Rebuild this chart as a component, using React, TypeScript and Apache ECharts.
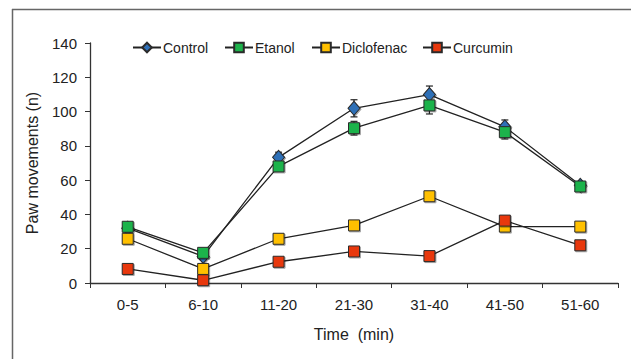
import React, { useEffect, useRef } from "react";
import * as echarts from "echarts";

const categories = ["0-5", "6-10", "11-20", "21-30", "31-40", "41-50", "51-60"];
const controlValues = [32, 15.5, 73.3, 101.9, 109.9, 91.1, 57];
const controlErrors = [1.5, 2, 3, 5, 5, 4, 1.5];
const etanolValues = [32.8, 17.6, 68, 90.3, 103.6, 88, 56.3];
const etanolErrors = [1.5, 2, 2, 4, 5, 4, 1.5];
const diclofenacValues = [25.8, 8.2, 25.8, 33.6, 50.6, 32.9, 32.9];
const curcuminValues = [8.2, 1.6, 12.4, 18.4, 15.7, 36.4, 22];
const yTicks = [0, 20, 40, 60, 80, 100, 120, 140];

const FONT = "'Liberation Sans', Arial, sans-serif";
const LINE = "#222";

function errorSeries(name: string, values: number[], errors: number[]) {
  const data = values.map((v, i) => [i, v - errors[i], v + errors[i]]);
  return {
    type: "custom",
    name: name + "-err",
    z: 1,
    silent: true,
    renderItem: (params: any, api: any) => {
      const x = api.value(0);
      const lo = api.coord([x, api.value(1)]);
      const hi = api.coord([x, api.value(2)]);
      const hw = 3.5;
      const style = { stroke: LINE, lineWidth: 1.2 };
      return {
        type: "group",
        children: [
          { type: "line", shape: { x1: lo[0], y1: lo[1], x2: hi[0], y2: hi[1] }, style },
          { type: "line", shape: { x1: lo[0] - hw, y1: lo[1], x2: lo[0] + hw, y2: lo[1] }, style },
          { type: "line", shape: { x1: hi[0] - hw, y1: hi[1], x2: hi[0] + hw, y2: hi[1] }, style },
        ],
      };
    },
    data,
  };
}

function lineSeries(name: string, values: number[], symbol: string, size: any, color: string, z: number) {
  return {
    type: "line",
    name,
    data: values,
    symbol,
    symbolSize: size,
    z,
    lineStyle: { color: LINE, width: 1.3 },
    itemStyle: {
      color,
      borderColor: "#2a2a2a",
      borderWidth: 1,
      shadowColor: "rgba(0,0,0,0.35)",
      shadowBlur: 1.5,
      shadowOffsetX: 1,
      shadowOffsetY: 1,
    },
  };
}

const legendLefts = [132, 224, 311, 422];
const legendNames = ["Control", "Etanol", "Diclofenac", "Curcumin"];

export default function App() {
  const ref = useRef<HTMLDivElement>(null);
  useEffect(() => {
    if (!ref.current) return;
    const chart = echarts.init(ref.current, undefined, { renderer: "svg" });
    chart.setOption({
      animation: false,
      backgroundColor: "#fff",
      textStyle: { fontFamily: FONT },
      grid: { left: 90, right: 13, top: 43, bottom: 76 },
      legend: legendNames.map((n, i) => ({
        data: [n],
        left: legendLefts[i],
        top: 40.5,
        itemWidth: 28,
        itemHeight: 12,
        itemGap: 0,
        padding: 0,
        textStyle: { fontFamily: FONT, fontSize: 14, color: "#222", padding: [0, 0, 0, -3] },
      })),
      xAxis: {
        type: "category",
        data: categories,
        boundaryGap: true,
        axisLine: { lineStyle: { color: "#333", width: 1.3 } },
        axisTick: { show: true, alignWithLabel: false, interval: 0, length: 5, lineStyle: { color: "#333" } },
        axisLabel: { fontFamily: FONT, fontSize: 15, color: "#222", margin: 14, interval: 0 },
        name: "Time  (min)",
        nameLocation: "middle",
        nameGap: 43,
        nameTextStyle: { fontFamily: FONT, fontSize: 16, color: "#222" },
      },
      yAxis: {
        type: "value",
        min: yTicks[0],
        max: yTicks[yTicks.length - 1],
        interval: 20,
        splitLine: { show: false },
        axisLine: { show: true, lineStyle: { color: "#333", width: 1.3 } },
        axisTick: { show: true, length: 5, lineStyle: { color: "#333" } },
        axisLabel: { fontFamily: FONT, fontSize: 15, color: "#222", margin: 13 },
        name: "Paw movements (n)",
        nameLocation: "middle",
        nameGap: 50,
        nameTextStyle: { fontFamily: FONT, fontSize: 16, color: "#222" },
      },
      graphic: [
        { type: "line", shape: { x1: 12, y1: 9.5, x2: 631, y2: 9.5 }, style: { stroke: "#666", lineWidth: 1.5 } },
        { type: "line", shape: { x1: 12.5, y1: 9, x2: 12.5, y2: 359 }, style: { stroke: "#666", lineWidth: 1.5 } },
      ],
      series: [
        errorSeries("Control", controlValues, controlErrors),
        errorSeries("Etanol", etanolValues, etanolErrors),
        lineSeries("Control", controlValues, "diamond", [12, 14], "#2e6fb7", 2),
        lineSeries("Etanol", etanolValues, "rect", 11, "#1db34b", 3),
        lineSeries("Diclofenac", diclofenacValues, "rect", 11, "#ffc000", 4),
        lineSeries("Curcumin", curcuminValues, "rect", 11, "#e8380d", 5),
      ],
    });
    return () => chart.dispose();
  }, []);
  return <div ref={ref} style={{ width: 631, height: 359, position: "absolute", left: 0, top: 0 }} />;
}
